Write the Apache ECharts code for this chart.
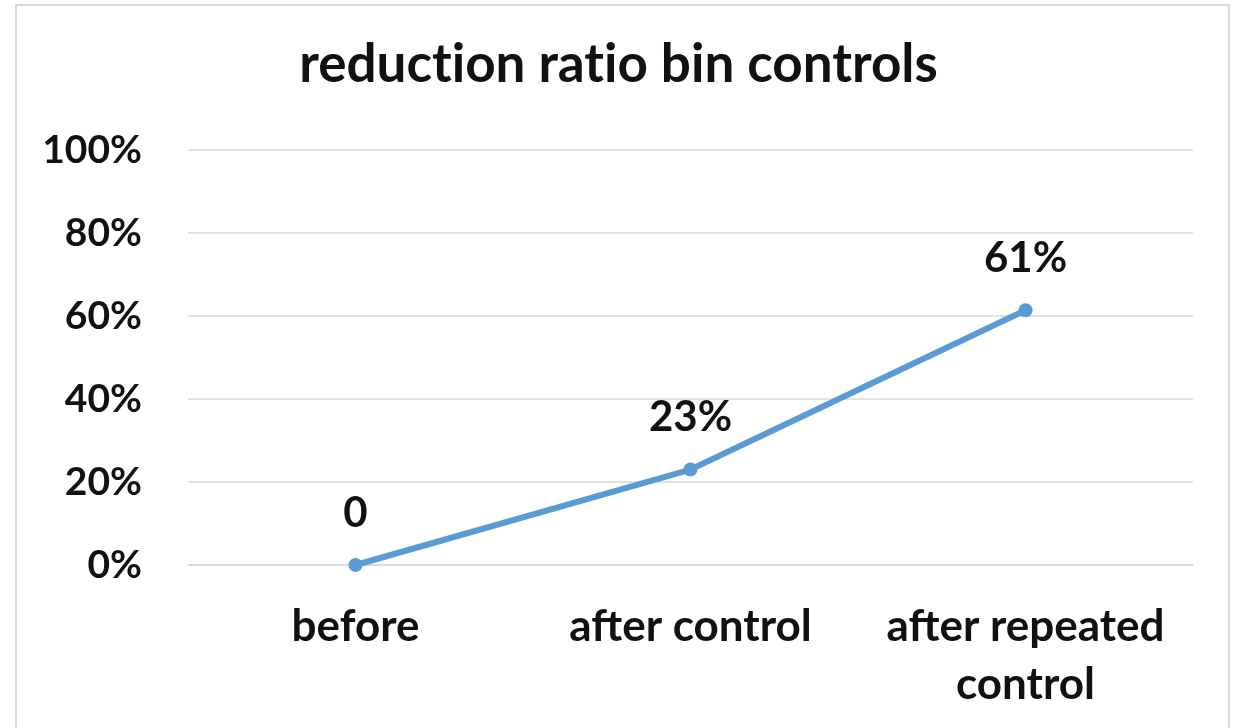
<!DOCTYPE html>
<html>
<head>
<meta charset="utf-8">
<script src="https://cdn.jsdelivr.net/npm/echarts@6/dist/echarts.min.js"></script>
<style>
html,body{margin:0;padding:0;background:#fff;}
#main{width:1237px;height:728px;}
</style>
</head>
<body>
<div id="main"></div>
<script>
var titleText = 'reduction ratio bin controls';
var categories = ['before', 'after control', 'after repeated\ncontrol'];
var values = [0, 0.23, 0.614];
var valueLabels = ['0', '23%', '61%'];
var yTicks = [0, 0.2, 0.4, 0.6, 0.8, 1.0];

var FONT = 'Lato';
// break the "ti" ligature of Lato so letters render separately
function noLig(s) { return s.replace(/t(?=i)/g, 't\u200C'); }

var chart = echarts.init(document.getElementById('main'));
chart.setOption({
  animation: false,
  backgroundColor: '#fff',
  graphic: [{
    type: 'rect',
    shape: {x: 16, y: 5, width: 1213, height: 740},
    style: {fill: 'none', stroke: '#d9d9d9', lineWidth: 2},
    silent: true
  }],
  title: {
    text: noLig(titleText),
    left: 'center',
    top: 33,
    textStyle: {fontFamily: FONT, fontWeight: 'bold', fontSize: 53, color: '#111'}
  },
  grid: {left: 188, right: 44, top: 150, bottom: 163, containLabel: false},
  xAxis: {
    type: 'category',
    data: categories,
    boundaryGap: true,
    axisLine: {show: true, lineStyle: {color: '#d9d9d9', width: 1.5}},
    axisTick: {show: false},
    axisLabel: {
      fontFamily: FONT, fontWeight: 'bold', fontSize: 44, color: '#111',
      margin: 33, lineHeight: 58, interval: 0
    },
    splitLine: {show: false}
  },
  yAxis: {
    type: 'value',
    min: 0, max: 1, interval: 0.2,
    axisLine: {show: false},
    axisTick: {show: false},
    axisLabel: {
      fontFamily: FONT, fontWeight: 'bold', fontSize: 39, color: '#111',
      margin: 46,
      formatter: function (v) { return Math.round(v * 100) + '%'; }
    },
    splitLine: {lineStyle: {color: '#d9d9d9', width: 1.5}}
  },
  series: [{
    type: 'line',
    data: values,
    symbol: 'circle',
    symbolSize: 14,
    lineStyle: {color: '#5b9bd5', width: 6},
    itemStyle: {color: '#5b9bd5'},
    label: {
      show: true,
      position: 'top',
      distance: 24,
      fontFamily: FONT, fontWeight: 'bold', fontSize: 42, color: '#111',
      formatter: function (p) { return valueLabels[p.dataIndex]; }
    }
  }]
});
</script>
</body>
</html>
